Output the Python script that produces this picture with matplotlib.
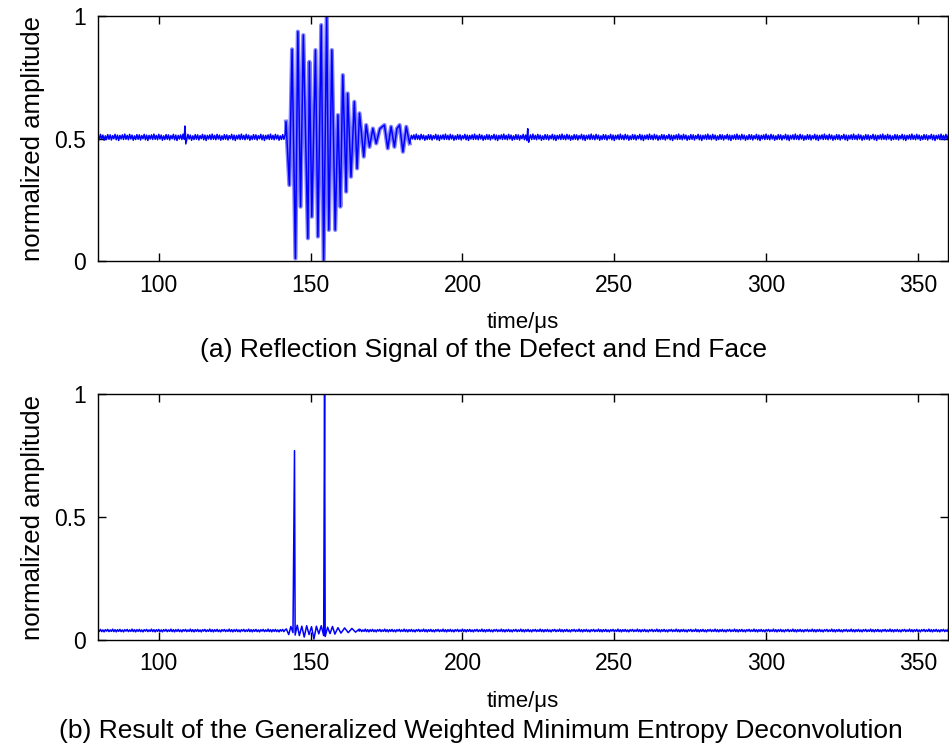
import numpy as np
import matplotlib
matplotlib.use('Agg')
import matplotlib.pyplot as plt

plt.rcParams['font.family'] = ['Liberation Sans', 'DejaVu Sans']
plt.rcParams['axes.linewidth'] = 1.0

# ==================== data ====================
T_START, T_END, DT = 80.0, 360.0, 0.4

# (a) reflection signal: baseline level and ripple pattern
BASE_A = 0.505
RIPPLE_A = [0.008, -0.010, 0.012, -0.007, 0.009, -0.012, 0.006, -0.009,
            0.011, -0.008, 0.010, -0.011, 0.007, -0.006, 0.012, -0.010,
            0.009, -0.013, 0.008, -0.007, 0.010, -0.009, 0.013, -0.008]
# burst peaks/troughs (time in us, amplitude)
BURST_T = [141.9, 143.0, 143.9, 145.0, 145.8, 146.7, 147.6, 149.1, 149.6,
           150.4, 151.6, 152.4, 153.5, 154.3, 155.3, 156.0, 157.0, 158.1,
           159.0, 159.8, 160.6, 161.7, 162.2, 163.3, 164.4, 165.3, 166.1,
           167.5, 168.3, 169.4, 170.5, 171.6, 172.8, 174.3, 175.4, 176.5,
           177.6, 178.4, 179.3, 180.4, 181.5, 182.6]
BURST_V = [0.569, 0.310, 0.864, 0.011, 0.936, 0.222, 0.922, 0.093, 0.813,
           0.181, 0.861, 0.100, 0.963, 0.004, 1.000, 0.127, 0.861, 0.127,
           0.596, 0.222, 0.759, 0.283, 0.684, 0.344, 0.650, 0.378, 0.603,
           0.426, 0.555, 0.466, 0.541, 0.480, 0.540, 0.555, 0.460, 0.548,
           0.466, 0.540, 0.555, 0.446, 0.548, 0.480]
# isolated spikes on the baseline
SPIKE_A_T = [108.6, 108.9, 221.5, 221.8]
SPIKE_A_V = [0.551, 0.478, 0.540, 0.485]

# (b) deconvolution result
BASE_B = 0.038
RIPPLE_B = [0.004, -0.003, 0.005, -0.004, 0.003, -0.005, 0.004, -0.002,
            0.005, -0.004, 0.003, -0.003, 0.006, -0.004, 0.004, -0.005]
SMALL_T = [142.0, 142.8, 143.5, 144.2, 144.7, 144.9, 145.6, 146.3, 147.1,
           147.9, 148.7, 149.5, 150.3, 151.1, 151.9, 152.7, 153.5, 154.3,
           154.6, 154.8, 155.6, 156.4, 157.2, 158.0, 159.0, 160.0, 161.2,
           162.4, 163.6, 164.8, 166.0]
SMALL_V = [0.045, 0.022, 0.055, 0.030, 0.770, 0.020, 0.060, 0.018, 0.056,
           0.012, 0.058, 0.022, 0.054, 0.004, 0.056, 0.025, 0.058, 0.018,
           1.000, 0.014, 0.052, 0.026, 0.055, 0.024, 0.050, 0.028, 0.049,
           0.030, 0.047, 0.032, 0.044]

XTICKS = [100, 150, 200, 250, 300, 350]
YTICKS = [0, 0.5, 1]
YTICKLABELS = ['0', '0.5', '1']
CAPTION_A = '(a) Reflection Signal of the Defect and End Face'
CAPTION_B = '(b) Result of the Generalized Weighted Minimum Entropy Deconvolution'

BLUE = '#0000ff'
LIGHT_BLUE = '#8080ff'


def build_trace(base, ripple, burst_t, burst_v, spike_t, spike_v):
    """baseline ripple before and after the burst, burst points in between"""
    grid = np.arange(T_START, T_END + DT / 2, DT)
    noise = base + np.resize(np.array(ripple), grid.size)
    pre = grid < burst_t[0]
    post = grid > burst_t[-1]
    t = np.concatenate([grid[pre], burst_t, grid[post], spike_t])
    v = np.concatenate([noise[pre], burst_v, noise[post], spike_v])
    order = np.argsort(t, kind='stable')
    return t[order], v[order]


def style_axes(ax):
    ax.set_xlim(T_START, T_END)
    ax.set_ylim(0, 1)
    ax.set_xticks(XTICKS)
    ax.set_yticks(YTICKS)
    ax.set_yticklabels(YTICKLABELS)
    ax.tick_params(direction='in', top=True, right=True, length=6,
                   width=1.0, labelsize=16.5, pad=9)
    ax.set_xlabel('time/\u03bcs', fontsize=16, labelpad=11)
    ax.set_ylabel('normalized amplitude', fontsize=18.5, labelpad=6)


fig = plt.figure(figsize=(9.49, 7.46), dpi=100)
ax1 = fig.add_axes([0.1033, 0.650, 0.896, 0.3286])
ax2 = fig.add_axes([0.1033, 0.1421, 0.896, 0.3297])

# 振荡段先画一条浅色粗线，模拟原图里密集竖线之间的浅蓝色
ax1.plot(BURST_T, BURST_V, color=LIGHT_BLUE, linewidth=3.0)
ta, va = build_trace(BASE_A, RIPPLE_A, BURST_T, BURST_V, SPIKE_A_T, SPIKE_A_V)
ax1.plot(ta, va, color=BLUE, linewidth=1.1)
style_axes(ax1)

tb, vb = build_trace(BASE_B, RIPPLE_B, SMALL_T, SMALL_V, [], [])
ax2.plot(tb, vb, color=BLUE, linewidth=1.1)
style_axes(ax2)

fig.text(0.509, 1 - 350 / 746, CAPTION_A, ha='center', va='center', fontsize=19)
fig.text(0.507, 1 - 731 / 746, CAPTION_B, ha='center', va='center', fontsize=19)

fig.savefig('out.png', dpi=100, facecolor='white')
